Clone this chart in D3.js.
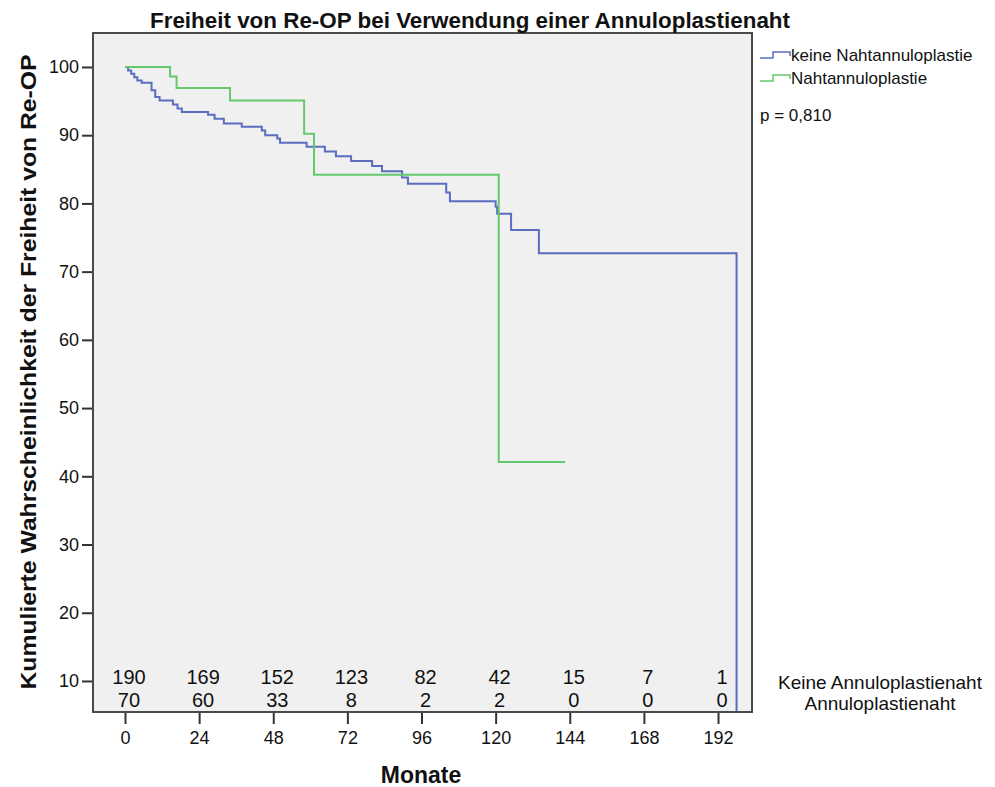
<!DOCTYPE html>
<html>
<head>
<meta charset="utf-8">
<script src="https://cdn.jsdelivr.net/npm/d3@7"></script>
<style>
  body { margin: 0; background: #fff; }
  text { font-family: "Liberation Sans", Arial, sans-serif; fill: #111; }
</style>
</head>
<body>
<div id="chart"></div>
<script>
// Kaplan-Meier steps [month, percent]
const keineSteps = [
  [0, 100], [1, 99.5], [2, 99.0], [3, 98.5], [4, 98.0], [5.4, 97.7],
  [8.6, 96.6], [9.8, 95.6], [11.2, 95.1], [15.5, 94.5], [17, 93.9], [18.4, 93.4],
  [26.9, 93.0], [29, 92.4], [32, 91.7], [37.8, 91.25], [44.3, 90.7], [45.4, 90.0],
  [49.3, 89.5], [50.2, 88.9], [58.8, 88.3], [64.7, 87.6], [68.3, 86.9], [73.2, 86.2],
  [80, 85.5], [83.2, 84.7], [89.7, 83.8], [91.6, 82.9], [104, 81.6], [105.2, 80.3],
  [120, 79.5], [120.5, 78.5], [125, 76.1], [134, 72.7], [198, 0]
];
const nahtSteps = [
  [0, 100], [14.6, 98.6], [16.7, 96.9], [34, 95.1], [58, 90.2], [61.2, 84.2],
  [121, 42.1], [142.5, 42.1]
];

const seriesNames = ["keine Nahtannuloplastie", "Nahtannuloplastie"];
const seriesColors = ["#5a6dc0", "#63c96c"];

const xTicks = [0, 24, 48, 72, 96, 120, 144, 168, 192];
const yTicks = [10, 20, 30, 40, 50, 60, 70, 80, 90, 100];

// numbers at risk per x tick
const riskKeine = [190, 169, 152, 123, 82, 42, 15, 7, 1];
const riskNaht = [70, 60, 33, 8, 2, 2, 0, 0, 0];
const riskLabels = ["Keine Annuloplastienaht", "Annuloplastienaht"];

const W = 995, H = 787;
const plot = {left: 93, top: 33, right: 752, bottom: 712};

const svg = d3.select("#chart").append("svg")
  .attr("width", W).attr("height", H);

const x = d3.scaleLinear().domain([-10.36, 203.0]).range([plot.left, plot.right]);
const y = d3.scaleLinear().domain([5.45, 104.98]).range([plot.bottom, plot.top]);

svg.append("defs").append("clipPath").attr("id", "clip")
  .append("rect")
  .attr("x", plot.left).attr("y", plot.top)
  .attr("width", plot.right - plot.left).attr("height", plot.bottom - plot.top);

// plot background
svg.append("rect")
  .attr("x", plot.left).attr("y", plot.top)
  .attr("width", plot.right - plot.left).attr("height", plot.bottom - plot.top)
  .attr("fill", "#f0f0f0");

// curves
const line = d3.line().x(d => x(d[0])).y(d => y(d[1])).curve(d3.curveStepAfter);
const g = svg.append("g").attr("clip-path", "url(#clip)");
[keineSteps, nahtSteps].forEach((steps, i) => {
  g.append("path")
    .attr("d", line(steps))
    .attr("fill", "none")
    .attr("stroke", seriesColors[i])
    .attr("stroke-width", 2);
});

// numbers at risk
xTicks.forEach((t, i) => {
  svg.append("text").attr("x", x(t) + 4).attr("y", 684)
    .attr("text-anchor", "middle").attr("font-size", 20).text(riskKeine[i]);
  svg.append("text").attr("x", x(t) + 4).attr("y", 707)
    .attr("text-anchor", "middle").attr("font-size", 20).text(riskNaht[i]);
});
riskLabels.forEach((lab, i) => {
  svg.append("text").attr("x", 880).attr("y", 689 + i * 21)
    .attr("text-anchor", "middle").attr("font-size", 19).text(lab);
});

// frame
svg.append("rect")
  .attr("x", plot.left).attr("y", plot.top)
  .attr("width", plot.right - plot.left).attr("height", plot.bottom - plot.top)
  .attr("fill", "none").attr("stroke", "#4a4a4a").attr("stroke-width", 2);

// axes
const yAxis = svg.append("g").attr("transform", `translate(${plot.left - 1},0)`)
  .call(d3.axisLeft(y).tickValues(yTicks).tickSize(10).tickPadding(3));
const xAxis = svg.append("g").attr("transform", `translate(0,${plot.bottom + 1})`)
  .call(d3.axisBottom(x).tickValues(xTicks).tickSize(11).tickPadding(7));
[xAxis, yAxis].forEach(a => {
  a.select(".domain").remove();
  a.selectAll(".tick line").attr("stroke", "#333").attr("stroke-width", 2);
  a.selectAll(".tick text").attr("font-size", 18)
    .attr("font-family", '"Liberation Sans", Arial, sans-serif').attr("fill", "#111");
});

// title and axis titles
svg.append("text").attr("x", 470).attr("y", 28)
  .attr("text-anchor", "middle").attr("font-size", 22).attr("font-weight", "bold")
  .attr("textLength", 640).attr("lengthAdjust", "spacingAndGlyphs")
  .text("Freiheit von Re-OP bei Verwendung einer Annuloplastienaht");

svg.append("text").attr("transform", "translate(36,372) rotate(-90)")
  .attr("text-anchor", "middle").attr("font-size", 22).attr("font-weight", "bold")
  .attr("textLength", 635).attr("lengthAdjust", "spacingAndGlyphs")
  .text("Kumulierte Wahrscheinlichkeit der Freiheit von Re-OP");

svg.append("text").attr("x", 421).attr("y", 783)
  .attr("text-anchor", "middle").attr("font-size", 23).attr("font-weight", "bold")
  .text("Monate");

// legend
seriesNames.forEach((name, i) => {
  const ly = 55 + i * 23;
  svg.append("path")
    .attr("d", `M760,${ly + 3}H773V${ly - 3}H790V${ly + 1}`)
    .attr("fill", "none").attr("stroke", seriesColors[i]).attr("stroke-width", 1.5);
  svg.append("text").attr("x", 791).attr("y", ly + 6)
    .attr("font-size", 17).text(name);
});
svg.append("text").attr("x", 760).attr("y", 121)
  .attr("font-size", 17).text("p = 0,810");
</script>
</body>
</html>
